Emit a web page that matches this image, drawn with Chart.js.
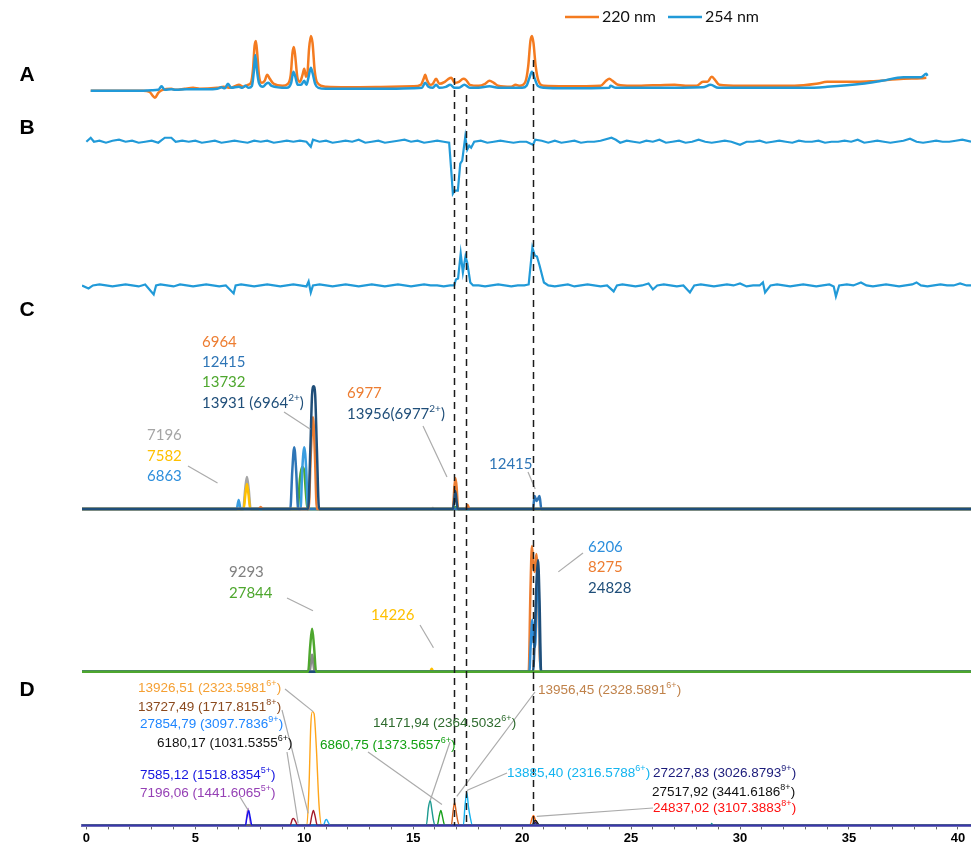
<!DOCTYPE html>
<html>
<head>
<meta charset="utf-8">
<script src="https://cdn.jsdelivr.net/npm/chart.js@4.4.1/dist/chart.umd.min.js"></script>
<style>
  html, body { margin: 0; padding: 0; background: #fff; }
  #wrap { width: 971px; height: 847px; position: relative; }
</style>
</head>
<body>
<div id="wrap"><canvas id="chrom"></canvas></div>
<script>
// retention time axis (min)
const xTickLabels = [0, 5, 10, 15, 20, 25, 30, 35, 40];
const xMin = -0.2, xMax = 40.6;

// panel A : UV traces
const uv220 = [[0.2,0],[2.6,0],[2.9,-1],[3.05,-5],[3.15,-7],[3.3,-2],[3.5,1],[3.9,2],[4.1,1],[4.5,2],[4.9,3],[5.2,2],[6.0,3],[6.3,4],[6.6,3],[7.0,6],[7.2,4],[7.4,6],[7.55,8],[7.65,22],[7.72,45],[7.78,50],[7.84,38],[7.92,16],[8.05,8],[8.18,10],[8.3,16],[8.42,12],[8.6,7],[9.0,5],[9.25,7],[9.38,16],[9.46,38],[9.52,44],[9.58,36],[9.68,14],[9.8,9],[9.92,16],[10.0,22],[10.08,14],[10.14,16],[10.22,42],[10.3,55],[10.38,48],[10.48,20],[10.6,8],[11,4],[12,3.5],[14,4],[15.0,4.5],[15.35,6],[15.48,12],[15.55,16],[15.63,11],[15.78,6],[15.9,7],[16.05,12],[16.2,7],[16.45,9],[16.62,12],[16.75,13],[16.9,8],[17.1,9],[17.3,12],[17.42,11],[17.6,6],[18.0,5],[18.3,7],[18.5,10],[18.7,8],[18.9,5],[19.5,4],[19.7,6],[19.9,5],[20.15,9],[20.28,25],[20.38,50],[20.45,55],[20.52,48],[20.62,25],[20.75,10],[21.0,5],[22,4.5],[23.6,5],[23.85,10],[24.0,12],[24.15,10],[24.4,6],[25,5],[26,5.5],[27,6],[27.5,5],[28.0,5],[28.3,9],[28.5,9],[28.7,14],[28.85,11],[29.05,6],[30,5],[32.5,5],[33.5,7],[34,9],[35.4,9],[36,9.5],[37.5,12],[38.3,12.5],[38.55,13]];
const uv254 = [[0.2,0],[2.5,0],[3.0,0.5],[3.3,1],[3.45,4.5],[3.6,1],[3.9,1.5],[4.1,1],[4.6,1.5],[5,1.5],[5.5,1.5],[6.0,2],[6.2,3.5],[6.35,2.5],[6.5,7],[6.65,3],[7.0,4],[7.15,3],[7.3,5],[7.45,3],[7.6,5],[7.68,18],[7.75,36],[7.82,22],[7.92,8],[8.1,4],[8.25,7],[8.35,8],[8.5,5],[9.2,3],[9.4,8],[9.5,19],[9.58,15],[9.7,6],[9.85,6],[10.0,10],[10.1,6],[10.2,14],[10.3,23],[10.38,18],[10.5,7],[10.65,3],[11,2],[12,2],[14,2],[15,2.5],[15.4,3],[15.55,8],[15.7,4],[15.9,3],[16.05,6],[16.2,3],[16.5,4],[16.7,6],[16.9,3],[17.1,3],[17.35,6],[17.6,3],[18,3],[18.5,4.5],[18.9,3],[20.0,3],[20.2,5],[20.32,12],[20.45,19],[20.58,12],[20.72,5],[21.0,3],[22,2.5],[24,3],[24.05,5],[24.3,3],[26,3],[28.3,3.5],[28.65,6],[29,3],[30,3],[33,3],[34,4],[35.6,7],[36.5,10],[37.5,13.5],[38.3,13.5],[38.55,17],[38.6,15]];

// panel B : two extracted traces
const traceB1 = [[0.0,0],[0.2,4],[0.35,0],[0.6,1],[0.9,-1],[1.2,1],[1.5,2],[1.8,0],[2.1,1],[2.4,-1],[2.7,0],[3.0,1],[3.3,-1],[3.6,4],[3.9,4],[4.1,0],[4.4,1],[4.7,0],[5.0,1],[5.3,-1],[5.6,0],[5.9,1],[6.2,-1],[6.5,0],[6.8,1],[7.1,0],[7.4,-1],[7.7,1],[8.0,0],[8.3,1],[8.6,-1],[8.9,0],[9.2,1],[9.5,0],[9.8,1],[10.1,0],[10.3,-5],[10.4,2],[10.7,0],[11.0,1],[11.3,-1],[11.6,0],[11.9,1],[12.2,0],[12.5,2],[12.8,-1],[13.1,0],[13.4,1],[13.7,-1],[14.0,0],[14.3,1],[14.6,2],[14.9,0],[15.2,1],[15.5,-1],[15.8,0],[16.1,1],[16.4,0],[16.65,-1],[16.75,-30],[16.82,-52],[16.9,-49],[17.05,-49],[17.16,-22],[17.25,-19],[17.39,5],[17.48,-8],[17.57,-4],[17.66,-6],[17.8,0],[18.1,1],[18.4,-1],[18.7,0],[19.0,1],[19.3,0],[19.6,-1],[19.9,0],[20.2,0],[20.5,-3],[20.6,2],[20.9,1],[21.2,-1],[21.5,1],[21.8,-1],[22.1,0],[22.4,1],[22.7,-1],[23.0,0],[23.3,0],[23.6,1],[24.1,4],[24.3,2],[24.5,-1],[24.8,1],[25.1,0],[25.4,-1],[25.7,1],[26.0,0],[26.3,2],[26.6,-1],[26.9,0],[27.2,1],[27.5,-1],[27.8,0],[28.1,2],[28.4,0],[28.7,-1],[29.0,0],[29.3,1],[29.6,0],[30.0,-3],[30.3,0],[30.6,0],[30.9,1],[31.2,-1],[31.5,0],[31.8,1],[32.1,0],[32.4,-1],[32.7,1],[33.0,0],[33.3,0],[33.6,1],[33.9,-1],[34.2,0],[34.5,0],[34.8,1],[35.1,0],[35.4,2],[35.7,-1],[36.0,0],[36.3,1],[36.6,0],[36.9,-1],[37.2,0],[37.5,1],[37.8,3],[38.1,0],[38.4,-1],[38.7,0],[39.0,1],[39.3,0],[39.6,0],[39.9,1],[40.2,2],[40.6,0]];
const traceB2 = [[-0.2,0],[0.1,-3],[0.3,0],[0.6,1],[0.9,0],[1.2,-1],[1.5,0],[1.8,1],[2.1,0],[2.4,-1],[2.7,1],[3.09,-9],[3.2,0],[3.4,1],[3.7,0],[4.0,-1],[4.3,1],[4.6,0],[4.9,-1],[5.2,0],[5.5,1],[5.8,0],[6.1,-1],[6.4,0],[6.76,-8],[6.85,0],[7.1,1],[7.4,0],[7.7,-1],[8.0,0],[8.3,1],[8.6,0],[8.9,-1],[9.2,0],[9.5,1],[9.8,0],[10.1,-1],[10.2,4],[10.3,-7],[10.4,0],[10.7,1],[11.0,0],[11.3,-1],[11.6,0],[11.9,1],[12.2,0],[12.5,-1],[12.8,0],[13.1,1],[13.4,0],[13.7,-1],[14.0,0],[14.3,1],[14.6,0],[14.9,-1],[15.2,0],[15.5,1],[15.8,0],[16.1,0],[16.4,-1],[16.7,0],[16.88,0],[16.96,6],[17.06,7],[17.18,32],[17.28,13],[17.4,29],[17.48,23],[17.62,3],[17.75,0],[18.0,0],[18.3,-1],[18.6,0],[18.9,1],[19.2,0],[19.5,-1],[19.8,0],[20.1,0],[20.3,1],[20.47,38],[20.58,30],[20.68,29],[20.8,20],[21.0,3],[21.2,0],[21.5,-1],[21.8,0],[22.1,1],[22.4,-1],[22.7,0],[23.0,1],[23.3,0],[23.6,-1],[23.9,0],[24.2,-6],[24.35,0],[24.6,1],[24.9,0],[25.2,-1],[25.5,0],[25.8,2],[26.0,-4],[26.2,0],[26.5,1],[26.8,0],[27.1,-1],[27.4,0],[27.7,-7],[27.9,0],[28.2,1],[28.5,0],[28.8,-1],[29.1,0],[29.4,1],[29.7,0],[30.0,2],[30.3,-1],[30.6,0],[30.9,0],[31.05,3],[31.15,-7],[31.4,0],[31.7,1],[32.0,0],[32.3,-1],[32.6,0],[32.9,1],[33.2,0],[33.5,-1],[33.8,0],[34.1,1],[34.3,-1],[34.4,-11],[34.55,0],[34.9,1],[35.2,0],[35.55,3],[35.8,0],[36.1,-1],[36.4,0],[36.7,1],[37.0,0],[37.3,-1],[37.6,0],[37.9,1],[38.1,3],[38.3,0],[38.6,-1],[38.9,0],[39.2,1],[39.5,0],[39.8,0],[40.1,2],[40.4,0],[40.6,0]];

// panel C : deconvoluted masses
const c13931 = [[-0.2,0],[10.18,0],[10.28,60],[10.36,115],[10.43,123],[10.5,115],[10.58,60],[10.68,0],[16.82,0],[16.88,8],[16.93,18],[16.99,8],[17.05,0],[40.6,0]];
const c6964 = [[-0.2,0],[7.9,0],[8.0,2],[8.1,0],[10.2,0],[10.3,55],[10.4,92],[10.48,60],[10.58,0],[16.82,0],[16.89,22],[16.94,31],[17.0,20],[17.06,0],[17.42,0],[17.5,4],[17.58,0],[40.6,0]];
const c12415 = [[-0.2,0],[9.36,0],[9.45,38],[9.54,62],[9.63,38],[9.72,0],[20.5,0],[20.57,13],[20.67,8],[20.8,13],[20.88,0],[40.6,0]];
const c6863 = [[-0.2,0],[6.9,0],[6.99,9],[7.08,0],[9.83,0],[9.91,40],[10.0,62],[10.09,40],[10.17,0],[40.6,0]];
const c13732 = [[-0.2,0],[9.7,0],[9.8,30],[9.9,42],[10.0,38],[10.08,15],[10.15,0],[16.88,0],[16.93,2],[16.98,0],[40.6,0]];
const c7196 = [[-0.2,0],[7.2,0],[7.29,20],[7.37,32],[7.45,20],[7.54,0],[15.85,0],[15.9,1],[15.95,0],[40.6,0]];
const c7582 = [[-0.2,0],[7.22,0],[7.3,15],[7.37,25],[7.44,15],[7.52,0],[40.6,0]];

// second deconvoluted panel
const e27844 = [[-0.2,0],[10.18,0],[10.27,25],[10.36,43],[10.45,25],[10.54,0],[40.6,0]];
const e9293 = [[-0.2,0],[10.25,0],[10.31,10],[10.36,17],[10.41,10],[10.47,0],[40.6,0]];
const e14226 = [[-0.2,0],[15.78,0],[15.85,3],[15.92,0],[40.6,0]];
const e8275 = [[-0.2,0],[20.3,0],[20.38,80],[20.45,126],[20.52,105],[20.58,100],[20.65,118],[20.72,90],[20.8,20],[20.86,0],[40.6,0]];
const e6206 = [[-0.2,0],[20.33,0],[20.4,30],[20.47,52],[20.53,30],[20.6,25],[20.66,80],[20.72,100],[20.78,60],[20.85,0],[40.6,0]];
const e24828 = [[-0.2,0],[20.5,0],[20.6,50],[20.67,95],[20.73,112],[20.8,70],[20.87,0],[40.6,0]];

// panel D : intact masses
const d7196 = [[-0.2,0],[7.3,0],[7.36,9],[7.42,17],[7.48,9],[7.56,0],[40.6,0]];
const d7585 = [[-0.2,0],[7.3,0],[7.37,8],[7.45,15],[7.52,8],[7.6,0],[40.6,0]];
const d13727 = [[-0.2,0],[9.35,0],[9.45,6],[9.5,7],[9.6,4],[9.7,0],[10.25,0],[10.35,10],[10.42,15],[10.5,9],[10.6,0],[40.6,0]];
const d13926 = [[-0.2,0],[10.12,0],[10.22,40],[10.3,100],[10.37,114],[10.45,112],[10.55,80],[10.68,20],[10.8,0],[40.6,0]];
const d27854 = [[-0.2,0],[10.88,0],[10.97,5],[11.02,6],[11.1,3],[11.2,0],[40.6,0]];
const d14171 = [[-0.2,0],[15.6,0],[15.7,18],[15.78,25],[15.86,15],[15.93,5],[16.0,0],[28.65,0],[28.7,2],[28.75,0],[40.6,0]];
const d6860 = [[-0.2,0],[16.1,0],[16.2,10],[16.27,15],[16.35,8],[16.45,0],[40.6,0]];
const d13956 = [[-0.2,0],[16.75,0],[16.83,14],[16.9,23],[16.97,14],[17.05,4],[17.12,0],[40.6,0]];
const d13885 = [[-0.2,0],[17.3,0],[17.38,20],[17.46,33],[17.54,18],[17.62,8],[17.72,0],[40.6,0]];
const d24837 = [[-0.2,0],[20.35,0],[20.45,7],[20.52,10],[20.6,6],[20.7,0],[40.6,0]];
const d27517 = [[-0.2,0],[20.45,0],[20.55,4],[20.62,5],[20.72,2],[20.8,0],[40.6,0]];
const d27227 = [[-0.2,0],[20.5,0],[20.6,3],[20.7,0],[40.6,0]];

// dashed retention markers (min)
const markerTimes = [16.88, 17.43, 20.5];

// ---------- layout ----------
const AREA_TOP = 0, AREA_BOTTOM = 827;
// each panel gets its own hidden y axis, 1 unit = 1 px above its baseline
function band(base) {
  return { display: false, min: base - AREA_BOTTOM, max: base - AREA_TOP };
}
const pts = arr => arr.map(p => ({ x: p[0], y: p[1] }));

function line(data, color, axis, width, order, smooth) {
  return {
    data: pts(data), yAxisID: axis, borderColor: color, borderWidth: width,
    pointRadius: 0, fill: false, order: order,
    cubicInterpolationMode: smooth ? 'monotone' : 'default', tension: 0
  };
}

const datasets = [
  line(uv254, '#219ad8', 'yA', 2.5, 1, true),
  line(uv220, '#f47b20', 'yA', 2.5, 2, true),
  line(traceB1, '#219ad8', 'yB1', 2.2, 1, false),
  line(traceB2, '#219ad8', 'yB2', 2.2, 1, false),
  line(c13931, '#1f4e79', 'yC', 2.5, 0, true),
  line(c6964, '#ed7d31', 'yC', 2.5, 2, true),
  line(c12415, '#2e75b6', 'yC', 2.5, 3, true),
  line(c6863, '#3a9de0', 'yC', 2.5, 4, true),
  line(c13732, '#4ea72e', 'yC', 2.5, 5, true),
  line(c7582, '#ffc000', 'yC', 2.5, 6, true),
  line(c7196, '#a5a5a5', 'yC', 2.5, 7, true),
  line(e27844, '#4ea72e', 'yE', 2.5, 0, true),
  line(e8275, '#ed7d31', 'yE', 2.5, 3, true),
  line(e6206, '#2e8fdc', 'yE', 2.5, 2, true),
  line(e24828, '#1f4e79', 'yE', 2.5, 1, true),
  line(e9293, '#8a8a8a', 'yE', 2.5, 4, true),
  line(e14226, '#ffc000', 'yE', 2.5, 5, true),
  line(d7196, '#b06ac8', 'yD', 1.4, 2, true),
  line(d7585, '#1010f0', 'yD', 1.4, 1, true),
  line(d13727, '#a3192b', 'yD', 1.4, 1, true),
  line(d13926, '#ffa51a', 'yD', 1.4, 2, true),
  line(d27854, '#22aef0', 'yD', 1.4, 1, true),
  line(d14171, '#1c9a90', 'yD', 1.4, 1, true),
  line(d6860, '#16a01a', 'yD', 1.4, 1, true),
  line(d13956, '#d2601e', 'yD', 1.4, 1, true),
  line(d13885, '#16b2f0', 'yD', 1.4, 1, true),
  line(d24837, '#ff6a10', 'yD', 1.4, 2, true),
  line(d27517, '#111111', 'yD', 1.4, 1, true),
  line(d27227, '#1a1a7a', 'yD', 1.4, 1, true)
];

// annotation text (left x, middle y); odd parts are superscripts
const calibriLabels = [
  { t: ['6964'], c: '#ed7d31', x: 202, y: 342 },
  { t: ['12415'], c: '#2e75b6', x: 202, y: 362 },
  { t: ['13732'], c: '#4ea72e', x: 202, y: 382 },
  { t: ['13931 (6964', '2+', ')'], c: '#1f4e79', x: 202, y: 403 },
  { t: ['7196'], c: '#a5a5a5', x: 147, y: 435 },
  { t: ['7582'], c: '#ffc000', x: 147, y: 456 },
  { t: ['6863'], c: '#2e8fdc', x: 147, y: 476 },
  { t: ['6977'], c: '#ed7d31', x: 347, y: 393 },
  { t: ['13956(6977', '2+', ')'], c: '#1f4e79', x: 347, y: 414 },
  { t: ['12415'], c: '#2e75b6', x: 489, y: 464 },
  { t: ['9293'], c: '#808080', x: 229, y: 572 },
  { t: ['27844'], c: '#4ea72e', x: 229, y: 593 },
  { t: ['14226'], c: '#ffc000', x: 371, y: 615 },
  { t: ['6206'], c: '#2e8fdc', x: 588, y: 547 },
  { t: ['8275'], c: '#ed7d31', x: 588, y: 567 },
  { t: ['24828'], c: '#1f4e79', x: 588, y: 588 }
];
const arialLabels = [
  { t: ['13926,51 (2323.5981', '6+', ')'], c: '#f5a033', x: 138, y: 688 },
  { t: ['13727,49 (1717.8151', '8+', ')'], c: '#8b4a1e', x: 138, y: 707 },
  { t: ['27854,79 (3097.7836', '9+', ')'], c: '#1f86ff', x: 140, y: 724 },
  { t: ['6180,17 (1031.5355', '6+', ')'], c: '#111111', x: 157, y: 743 },
  { t: ['7585,12 (1518.8354', '5+', ')'], c: '#1414e0', x: 140, y: 775 },
  { t: ['7196,06 (1441.6065', '5+', ')'], c: '#9540b5', x: 140, y: 793 },
  { t: ['14171,94 (2364.5032', '6+', ')'], c: '#2e6b2e', x: 373, y: 723 },
  { t: ['6860,75 (1373.5657', '6+', ')'], c: '#12a012', x: 320, y: 745 },
  { t: ['13956,45 (2328.5891', '6+', ')'], c: '#c0824a', x: 538, y: 690 },
  { t: ['13885,40 (2316.5788', '6+', ')'], c: '#12b4f0', x: 507, y: 773 },
  { t: ['27227,83 (3026.8793', '9+', ')'], c: '#1a1a7a', x: 653, y: 773 },
  { t: ['27517,92 (3441.6186', '8+', ')'], c: '#111111', x: 652, y: 792 },
  { t: ['24837,02 (3107.3883', '8+', ')'], c: '#ff1010', x: 653, y: 808 }
];
// leader lines: label-side pixel -> peak in data coordinates
const leaders = [
  [188, 466, 6.02, 26, 'yC'], [284, 412, 10.28, 80, 'yC'], [423, 426, 16.55, 32, 'yC'], [528, 472, 20.6, 20, 'yC'],
  [287, 598, 10.4, 61, 'yE'], [420, 625, 15.93, 24, 'yE'], [583, 553, 21.66, 100, 'yE'],
  [285, 689, 10.41, 114, 'yD'], [282, 710, 10.18, 12, 'yD'], [287, 752, 9.72, 2, 'yD'], [240, 797, 7.43, 15, 'yD'],
  [368, 752, 16.32, 21, 'yD'], [450, 742, 15.78, 25, 'yD'], [535, 692, 17.0, 29, 'yD'],
  [507, 773, 17.46, 35, 'yD'], [653, 808, 20.67, 9, 'yD']
];

function richText(ctx, x, y, parts, size, family, color) {
  let cx = x;
  ctx.fillStyle = color;
  ctx.textBaseline = 'middle';
  ctx.textAlign = 'left';
  parts.forEach((p, i) => {
    const sup = i % 2 === 1;
    ctx.font = (sup ? Math.round(size * 0.68) : size) + 'px ' + family;
    ctx.fillText(p, cx, sup ? y - size * 0.36 : y);
    cx += ctx.measureText(p).width;
  });
}

const overlay = {
  id: 'overlay',
  afterDatasetsDraw(chart) {
    const { ctx, scales } = chart;
    ctx.save();
    // grey leader lines
    ctx.strokeStyle = '#ababab';
    ctx.lineWidth = 1.2;
    leaders.forEach(l => {
      ctx.beginPath();
      ctx.moveTo(l[0], l[1]);
      ctx.lineTo(scales.x.getPixelForValue(l[2]), scales[l[4]].getPixelForValue(l[3]));
      ctx.stroke();
    });
    // dashed markers
    const tops = [78, 95, 60];
    ctx.strokeStyle = '#1a1a1a';
    ctx.lineWidth = 1.5;
    ctx.setLineDash([7, 5]);
    markerTimes.forEach((t, i) => {
      const px = Math.round(scales.x.getPixelForValue(t)) + 0.5;
      ctx.beginPath();
      ctx.moveTo(px, tops[i]);
      ctx.lineTo(px, scales.yD.getPixelForValue(0));
      ctx.stroke();
    });
    ctx.restore();
  },
  afterDraw(chart) {
    const ctx = chart.ctx;
    ctx.save();
    calibriLabels.forEach(l => richText(ctx, l.x, l.y, l.t, 15, 'Lato, "Open Sans", sans-serif', l.c));
    arialLabels.forEach(l => richText(ctx, l.x, l.y, l.t, 13.5, '"Liberation Sans", Arial, sans-serif', l.c));
    // panel letters
    ctx.fillStyle = '#000';
    ctx.font = 'bold 21px "Liberation Sans", Arial, sans-serif';
    ctx.textAlign = 'center';
    ctx.textBaseline = 'middle';
    [['A', 75], ['B', 128], ['C', 310], ['D', 690]].forEach(p => ctx.fillText(p[0], 27, p[1]));
    // legend
    const leg = [['220 nm', '#f47b20', 565], ['254 nm', '#219ad8', 668]];
    ctx.lineWidth = 2.5;
    leg.forEach(g => {
      ctx.strokeStyle = g[1];
      ctx.beginPath(); ctx.moveTo(g[2], 17); ctx.lineTo(g[2] + 34, 17); ctx.stroke();
      richText(ctx, g[2] + 37, 17, [g[0]], 16, 'Lato, "Open Sans", sans-serif', '#111');
    });
    ctx.restore();
  }
};

new Chart(document.getElementById('chrom'), {
  type: 'line',
  data: { datasets: datasets },
  options: {
    responsive: true,
    maintainAspectRatio: false,
    animation: false,
    layout: { padding: { left: 82, right: 0, top: 0, bottom: 0 } },
    plugins: { legend: { display: false }, tooltip: { enabled: false } },
    scales: {
      x: {
        type: 'linear', min: xMin, max: xMax, z: 1,
        afterBuildTicks: axis => {
          const t = [];
          for (let v = 0; v <= 40; v++) t.push({ value: v });
          axis.ticks = t;
        },
        ticks: {
          autoSkip: false, maxRotation: 0, padding: 1, color: '#000',
          font: { family: '"Liberation Sans", Arial, sans-serif', size: 13, weight: 'bold' },
          callback: v => xTickLabels.includes(v) ? String(v) : ''
        },
        grid: { drawOnChartArea: false, drawTicks: true, tickLength: 4, color: '#666' },
        border: { color: '#6b6bb5', width: 3 }
      },
      yA: band(91),
      yB1: band(142),
      yB2: band(286),
      yC: band(510),
      yE: band(673),
      yD: band(827)
    }
  },
  plugins: [overlay]
});
</script>
</body>
</html>
